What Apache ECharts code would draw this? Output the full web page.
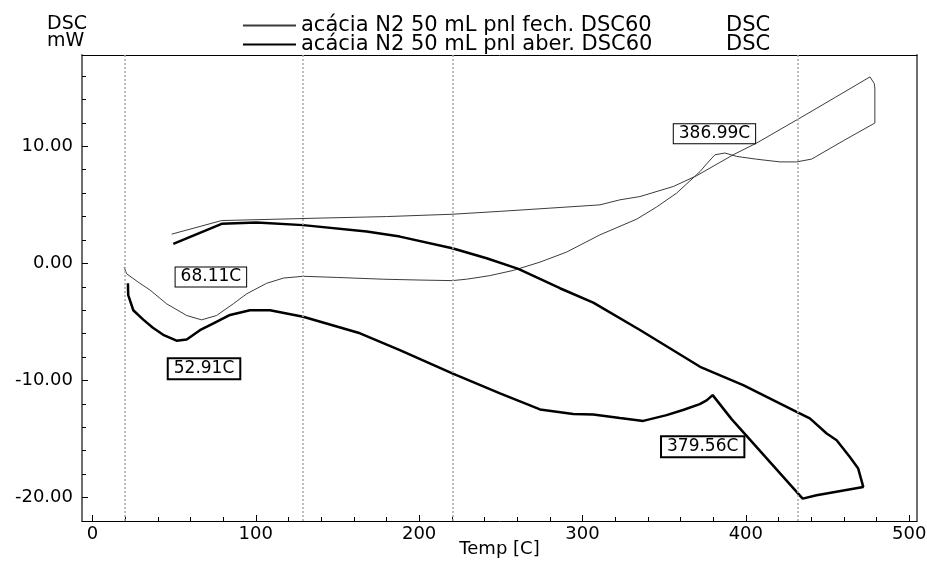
<!DOCTYPE html>
<html><head><meta charset="utf-8">
<script src="https://cdn.jsdelivr.net/npm/echarts@6/dist/echarts.min.js"></script>
<style>html,body{margin:0;padding:0;background:#fff}#c{width:927px;height:561px}</style>
</head><body><div id="c"></div>
<script>
const seriesNames = ['acácia N2 50 mL pnl fech. DSC60', 'acácia N2 50 mL pnl aber. DSC60'];
const legendSuffix = 'DSC';
const yTitle = 'DSC\nmW';
const xTitle = 'Temp [C]';

// thin curve (closed pan): heating then cooling
const thinTemp = [19.3, 20.9, 28, 35.2, 45.4, 57.7, 66.8, 76, 86.2, 94.4, 106.6, 117, 129, 150, 178, 200, 220.3, 229, 243, 257.6, 274, 290.3, 310.7, 333.2, 345.4, 357.6, 372, 376, 381.1, 387.2, 394.4, 406.6, 420.9, 431.1, 440.3, 460, 479, 479, 478.6, 476, 455, 432.1, 406.6, 392.3, 369.9, 355.6, 335.2, 322.9, 310.7, 280, 250, 220.3, 180, 139.3, 79.1, 48.5];
const thinDsc  = [-0.3, -0.88, -1.6, -2.27, -3.45, -4.45, -4.82, -4.45, -3.45, -2.6, -1.7, -1.25, -1.1, -1.2, -1.35, -1.42, -1.47, -1.35, -1.05, -0.6, 0.11, 0.97, 2.44, 3.78, 4.82, 6.0, 7.85, 8.5, 9.28, 9.43, 9.14, 8.9, 8.67, 8.67, 8.91, 10.5, 11.99, 14.99, 15.37, 15.93, 14.2, 12.33, 10.28, 9.28, 7.49, 6.57, 5.71, 5.43, 5.0, 4.72, 4.45, 4.2, 4.0, 3.87, 3.66, 2.5];

// thick curve (open pan): heating then cooling
const thickTemp = [21.7, 21.9, 25, 31.1, 37, 43.3, 51.5, 57.7, 65.8, 75, 84.2, 96.4, 108.7, 129, 163.8, 188.2, 220.3, 249.5, 274, 294.3, 306.6, 322.9, 337.2, 351.5, 362, 371.8, 376, 379.7, 391.3, 434.8, 443.3, 471.9, 468.8, 463.7, 455.6, 449.5, 439.2, 431.1, 398.4, 372, 335.2, 306.6, 286.2, 260.7, 241.3, 220.3, 188.2, 167.9, 129, 100.5, 79.1, 49.5];
const thickDsc  = [-1.7, -2.7, -4.0, -4.8, -5.5, -6.1, -6.6, -6.5, -5.7, -5.05, -4.4, -4.0, -4.0, -4.55, -5.97, -7.4, -9.39, -11.1, -12.47, -12.87, -12.9, -13.2, -13.45, -12.96, -12.5, -12.02, -11.7, -11.25, -13.3, -20.09, -19.8, -19.09, -17.52, -16.53, -15.1, -14.53, -13.24, -12.68, -10.39, -8.83, -5.69, -3.35, -2.12, -0.47, 0.44, 1.3, 2.29, 2.72, 3.27, 3.49, 3.38, 1.67];

const xTickLabels = [0, 100, 200, 300, 400, 500];
const yTickLabels = [-20, -10, 0, 10];
const markerTemps = [19.5, 129, 220.3, 431.5];

const peakLabels = ['68.11C', '386.99C', '52.91C', '379.56C'];
const peakTemps  = [72.5, 380.8, 68.3, 373.6];
const peakDsc    = [-1.15, 11.08, -9.0, -15.65];
const peakSeries = [0, 0, 1, 1];

const FONT = 'DejaVu Sans';
const xMin = -6.4, xMax = 504.8, yMin = -22.0, yMax = 17.8;
const xMinor = [], yMinor = [];
for (let v = 20; v < xMax; v += 20) if (v % 100 !== 0) xMinor.push(v);
for (let v = -20; v < yMax; v += 2) if (v % 10 !== 0) yMinor.push(v);

function pts(t, d) { return t.map((x, i) => [x, d[i]]); }
function peaks(s) {
  const out = [];
  peakLabels.forEach((l, i) => { if (peakSeries[i] === s) out.push({ name: l, coord: [peakTemps[i], peakDsc[i]] }); });
  return out;
}
function peakLabel(bw) {
  return { show: true, position: 'inside', formatter: p => p.name, color: '#000', fontFamily: FONT, fontSize: 17,
    backgroundColor: '#fff', borderColor: '#000', borderWidth: bw, padding: [1, 5, 1, 5] };
}

const chart = echarts.init(document.getElementById('c'), null, { renderer: 'canvas' });
chart.setOption({
  animation: false,
  backgroundColor: '#fff',
  title: { text: yTitle, left: 42, top: 11, textStyle: { fontFamily: FONT, fontSize: 19, fontWeight: 'normal', color: '#000', lineHeight: 17 } },
  legend: {
    orient: 'vertical', left: 237, top: 10, itemWidth: 53, itemHeight: 12, itemGap: -2,
    data: seriesNames,
    itemStyle: { opacity: 0 },
    formatter: n => '{n|' + n + '}{d|' + legendSuffix + '}',
    textStyle: { fontFamily: FONT, fontSize: 21, color: '#000', lineHeight: 19,
      rich: { n: { fontFamily: FONT, fontSize: 21, lineHeight: 19, width: 425 }, d: { fontFamily: FONT, fontSize: 21, lineHeight: 19 } } }
  },
  grid: { left: 82, right: 10, top: 55, bottom: 40, containLabel: false, outerBoundsMode: 'none' },
  xAxis: [
    { type: 'value', min: xMin, max: xMax, position: 'bottom',
      name: xTitle, nameLocation: 'middle', nameGap: 19, nameMoveOverlap: false,
      nameTextStyle: { fontFamily: FONT, fontSize: 18, color: '#000', verticalAlign: 'top' },
      axisLine: { show: true, onZero: false, lineStyle: { color: '#000', width: 1 } },
      axisTick: { show: true, inside: true, length: 6, customValues: xTickLabels, lineStyle: { color: '#000' } },
      axisLabel: { customValues: xTickLabels, fontFamily: FONT, fontSize: 18, color: '#000', margin: 4 },
      splitLine: { show: false } },
    { type: 'value', min: xMin, max: xMax, position: 'bottom',
      axisLine: { show: false, onZero: false },
      axisTick: { show: true, inside: true, length: 4, customValues: xMinor, lineStyle: { color: '#000' } },
      axisLabel: { show: false }, splitLine: { show: false } },
    { type: 'value', min: xMin, max: xMax, position: 'top',
      axisLine: { show: true, onZero: false, lineStyle: { color: '#000', width: 1 } },
      axisTick: { show: false }, axisLabel: { show: false }, splitLine: { show: false } }
  ],
  yAxis: [
    { type: 'value', min: yMin, max: yMax, position: 'left',
      axisLine: { show: true, onZero: false, lineStyle: { color: '#6e6e6e', width: 2 } },
      axisTick: { show: true, inside: true, length: 6, customValues: yTickLabels, lineStyle: { color: '#000' } },
      axisLabel: { customValues: yTickLabels, formatter: v => Number(v).toFixed(2), fontFamily: FONT, fontSize: 18, color: '#000', margin: 9 },
      splitLine: { show: false } },
    { type: 'value', min: yMin, max: yMax, position: 'left',
      axisLine: { show: false, onZero: false },
      axisTick: { show: true, inside: true, length: 4, customValues: yMinor, lineStyle: { color: '#000' } },
      axisLabel: { show: false }, splitLine: { show: false } },
    { type: 'value', min: yMin, max: yMax, position: 'right',
      axisLine: { show: true, onZero: false, lineStyle: { color: '#6e6e6e', width: 2 } },
      axisTick: { show: false }, axisLabel: { show: false }, splitLine: { show: false } }
  ],
  series: [
    { name: seriesNames[0], type: 'line', data: pts(thinTemp, thinDsc), symbol: 'none', smooth: false,
      lineStyle: { color: '#3c3c3c', width: 1 }, itemStyle: { color: '#3c3c3c' },
      markLine: { silent: true, symbol: ['none', 'none'], label: { show: false },
        lineStyle: { color: '#a6a6a6', type: [2, 2], width: 1.5 },
        data: markerTemps.map(t => ({ xAxis: t })) },
      markPoint: { silent: true, symbol: 'rect', symbolSize: 1, itemStyle: { color: 'rgba(0,0,0,0)' },
        label: peakLabel(1), data: peaks(0) } },
    { name: seriesNames[1], type: 'line', data: pts(thickTemp, thickDsc), symbol: 'none', smooth: false,
      lineStyle: { color: '#000', width: 2.5 }, itemStyle: { color: '#000' },
      markPoint: { silent: true, symbol: 'rect', symbolSize: 1, itemStyle: { color: 'rgba(0,0,0,0)' },
        label: peakLabel(2), data: peaks(1) } }
  ]
});
</script></body></html>
